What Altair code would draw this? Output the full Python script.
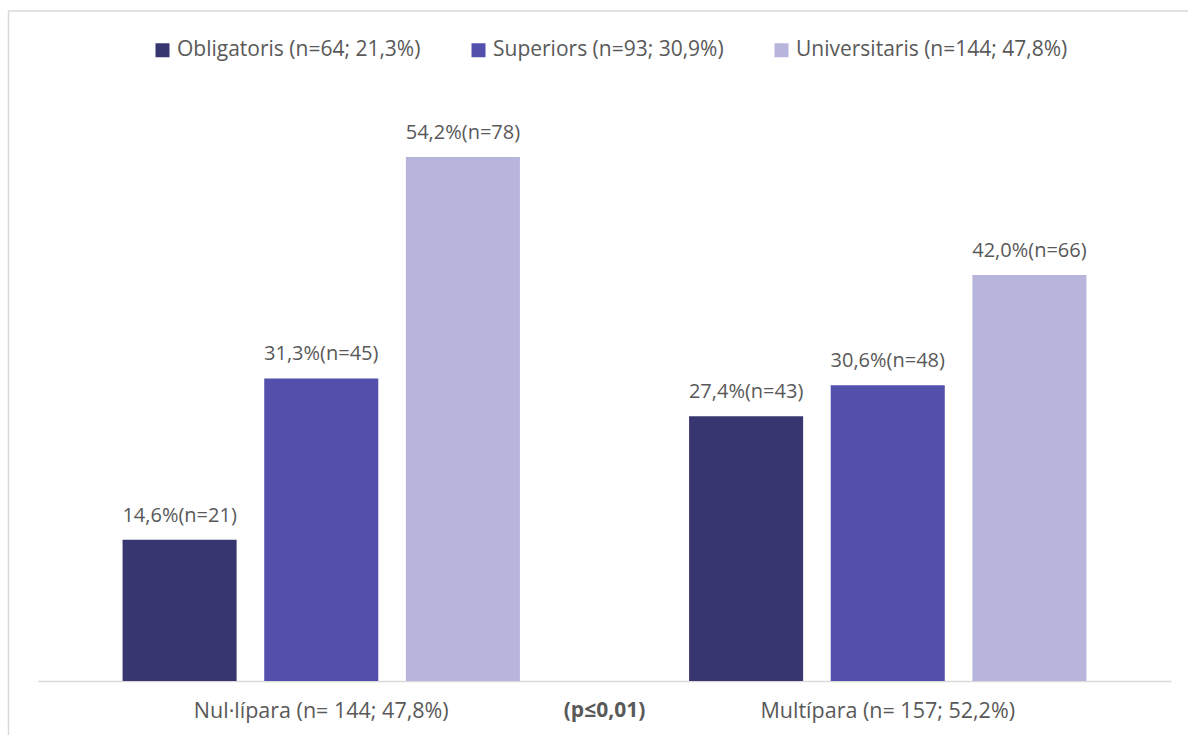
import altair as alt
import pandas as pd

# Grups de paritat (eix X) i nivell d'estudis (sèries)
groups = ["Nul·lípara  (n= 144; 47,8%)", "Multípara (n= 157; 52,2%)"]
levels = [
    "Obligatoris (n=64; 21,3%)",
    "Superiors (n=93; 30,9%)",
    "Universitaris (n=144; 47,8%)",
]
pct_nul = [14.6, 31.3, 54.2]
n_nul = [21, 45, 78]
pct_multi = [27.4, 30.6, 42.0]
n_multi = [43, 48, 66]
colors = ["#383670", "#5250AC", "#B7B5DC"]
p_label = "(p≤0,01)"

rows = []
for g, pcts, ns in zip(groups, [pct_nul, pct_multi], [n_nul, n_multi]):
    for lvl, p, n in zip(levels, pcts, ns):
        rows.append({
            "grup": g,
            "estudis": lvl,
            "pct": p,
            "n": n,
            "etiqueta": f"{p:.1f}".replace(".", ",") + f"%(n={n})",
        })
df = pd.DataFrame(rows)

W, H = 1133, 580
FONT = "Open Sans"
GREY = "#595959"

x = alt.X(
    "grup:N", sort=groups, title=None,
    scale=alt.Scale(paddingInner=0, paddingOuter=0),
    axis=alt.Axis(
        labelAngle=0, ticks=False, tickSize=0, grid=False,
        domainColor="#D9D9D9", domainWidth=1.5,
        labelFont=FONT, labelFontSize=21.5, labelColor=GREY,
        labelPadding=36, labelBaseline="alphabetic", labelLimit=0,
    ),
)
xo = alt.XOffset(
    "estudis:N", sort=levels,
    scale=alt.Scale(paddingInner=0.195, paddingOuter=0.597),
)
y = alt.Y("pct:Q", scale=alt.Scale(domain=[0, 60]), axis=None)
color = alt.Color(
    "estudis:N", sort=levels,
    scale=alt.Scale(domain=levels, range=colors),
    legend=alt.Legend(
        title=None, orient="none", direction="horizontal",
        legendX=114, legendY=-61.5,
        symbolType="square", symbolSize=196, symbolStrokeWidth=0,
        symbolOpacity=1, labelLimit=0,
        labelFont=FONT, labelFontSize=21, labelColor=GREY,
        labelOffset=4, columnPadding=47, padding=0,
    ),
)

base = alt.Chart(df)

bars = base.mark_bar().encode(x=x, xOffset=xo, y=y, color=color)

labels = base.mark_text(
    dy=-18, baseline="alphabetic", font=FONT, fontSize=20, color=GREY
).encode(x=x, xOffset=xo, y=y, text="etiqueta:N")

plabel = alt.Chart(pd.DataFrame({"t": [p_label]})).mark_text(
    font=FONT, fontSize=21, fontWeight="bold", color=GREY, baseline="alphabetic"
).encode(text="t:N", x=alt.value(W / 2), y=alt.value(H + 36))

# Marc de l'àrea del gràfic
frame = alt.Chart(pd.DataFrame({"k": [0]})).mark_rect(
    fillOpacity=0, stroke="#D9D9D9", strokeWidth=1.5
).encode(
    x=alt.value(-29.5), x2=alt.value(W + 60),
    y=alt.value(-90), y2=alt.value(H + 100),
)

chart = alt.layer(frame, bars, labels, plabel).properties(
    width=W, height=H,
    padding={"left": 38, "top": 101, "right": 17, "bottom": 54},
    autosize="none",
    background="white",
).configure_view(stroke=None)

chart.save("out.html", embed_options={"renderer": "svg", "actions": False})
